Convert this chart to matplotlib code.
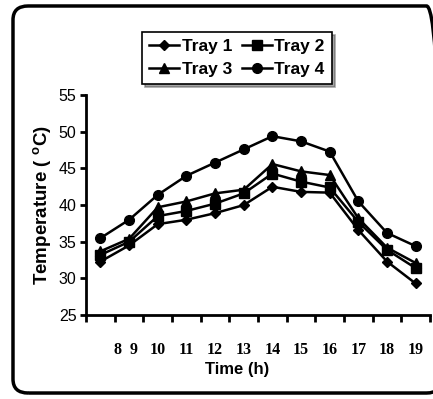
import matplotlib
matplotlib.use("Agg")
import matplotlib.pyplot as plt
from matplotlib.patches import FancyBboxPatch

hours = ["8", "9", "10", "11", "12", "13", "14", "15", "16", "17", "18", "19"]
tray1 = [32.3, 34.5, 37.4, 38.0, 38.9, 40.0, 42.5, 41.8, 41.7, 36.6, 32.3, 29.3]
tray2 = [33.2, 35.0, 38.5, 39.2, 40.2, 41.6, 44.3, 43.2, 42.4, 37.7, 33.9, 31.4]
tray3 = [33.7, 35.4, 39.7, 40.5, 41.6, 42.1, 45.6, 44.6, 44.1, 38.2, 34.2, 32.1]
tray4 = [35.5, 38.0, 41.4, 44.0, 45.8, 47.6, 49.4, 48.7, 47.3, 40.5, 36.2, 34.4]

series = [("Tray 1", tray1, "D", 5), ("Tray 2", tray2, "s", 7),
          ("Tray 3", tray3, "^", 7), ("Tray 4", tray4, "o", 7)]

sans = ["Liberation Sans", "DejaVu Sans"]
serif = ["Liberation Serif", "DejaVu Serif"]

fig = plt.figure(figsize=(4.33, 3.99), dpi=100)
ax = fig.add_axes([0.199, 0.2105, 0.794, 0.551])

x = [i + 0.5 for i in range(len(hours))]
lines = {}
for name, vals, mk, ms in series:
    lines[name], = ax.plot(x, vals, color="black", lw=1.8, marker=mk, ms=ms, label=name)

ax.set_xlim(0, 12)
ax.set_ylim(25, 55)
ax.set_yticks(range(25, 56, 5))
ax.set_xticks(range(0, 13))
ax.set_xticklabels([])
ax.tick_params(axis="x", direction="out", length=5, width=2)
ax.tick_params(axis="y", direction="out", length=4, width=2, pad=3)
for lab in ax.get_yticklabels():
    lab.set_family(sans)
    lab.set_fontsize(11.5)
for s in ["top", "right"]:
    ax.spines[s].set_visible(False)
for s in ["left", "bottom"]:
    ax.spines[s].set_linewidth(2)

# hour labels, the first two sit squeezed together as in the source
label_x = [1.1, 1.66] + x[2:]
for lx, h in zip(label_x, hours):
    ax.text(lx, -0.16, h, transform=ax.get_xaxis_transform(), ha="center",
            va="center", family=serif, fontweight="bold", fontsize=11.5)

ax.text(0.44, -0.25, "Time (h)", transform=ax.transAxes, ha="center",
        va="center", family=sans, fontweight="bold", fontsize=12)
ax.set_ylabel("Temperature ( $^{\\mathregular{o}}$C)", family=sans,
              fontweight="bold", fontsize=13.5, labelpad=3)

# column-first fill in matplotlib, so order handles to get Tray 1 | Tray 2 on top
order = ["Tray 1", "Tray 3", "Tray 2", "Tray 4"]
leg = ax.legend([lines[n] for n in order], order, loc="center",
                bbox_to_anchor=(0.439, 1.17), ncol=2,
                frameon=True, fancybox=False, shadow=True, handlelength=1.7,
                columnspacing=0.6, handletextpad=0.15, borderpad=0.4,
                labelspacing=0.45, prop={"family": sans, "weight": "bold", "size": 12.5})
leg.get_frame().set_edgecolor("black")
leg.get_frame().set_linewidth(1.2)

border = FancyBboxPatch((0.03, 0.015), 0.99, 0.97, boxstyle="round,pad=0,rounding_size=0.035",
                        transform=fig.transFigure, fill=False, lw=2.5, ec="black")
fig.patches.append(border)

fig.savefig("out.png", dpi=100)
